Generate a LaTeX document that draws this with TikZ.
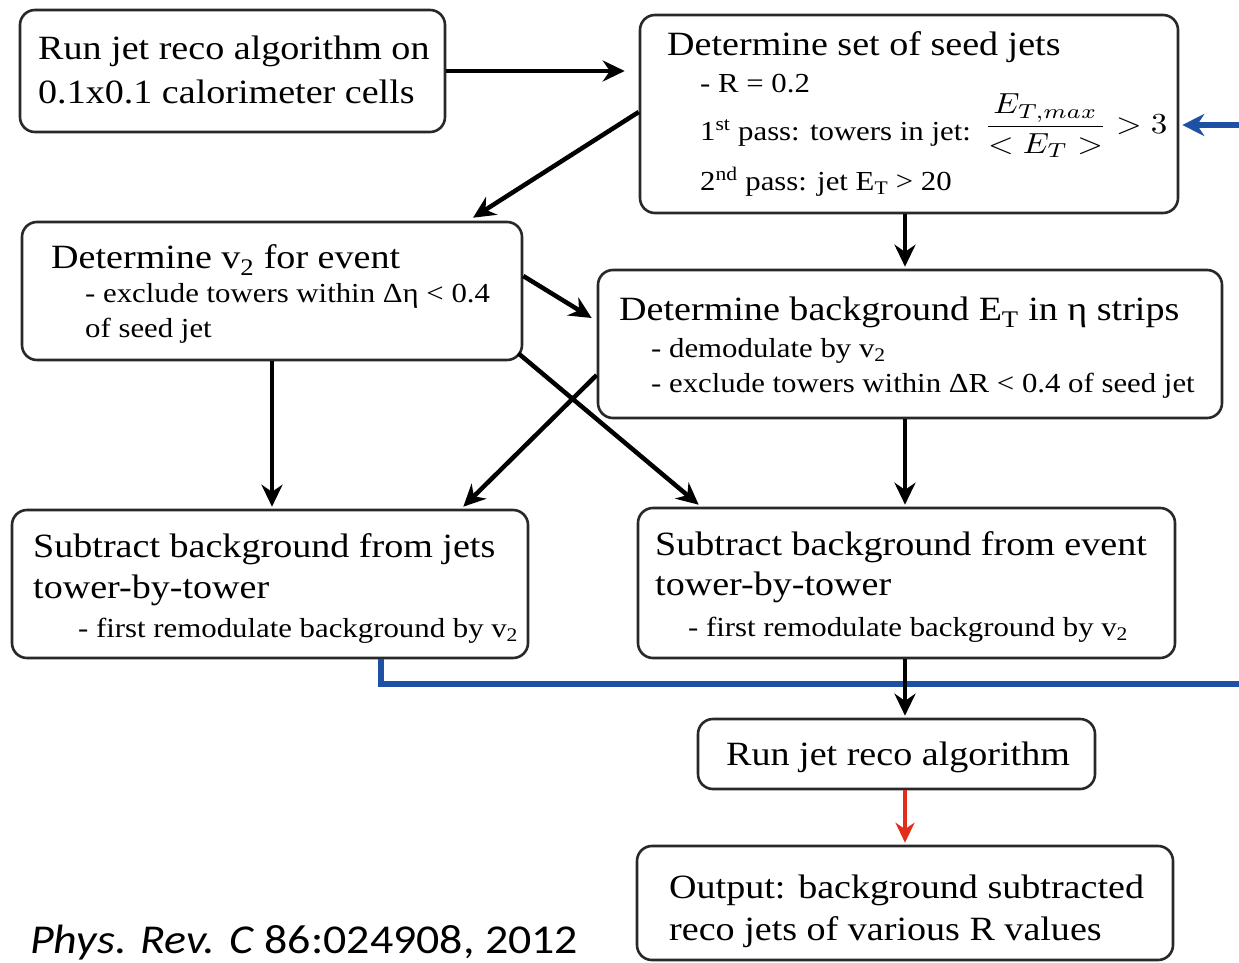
\documentclass[tikz,border=0pt]{standalone}
\usepackage{fontspec}
\setmainfont{Liberation Serif}[FakeStretch=1.12]
\newfontfamily\citefont{Carlito}[FakeStretch=1.12]
\usepackage{graphicx}
\usetikzlibrary{arrows.meta,calc}
\definecolor{boxgray}{RGB}{40,40,40}
\definecolor{fbblue}{RGB}{30,80,165}
\definecolor{fbred}{RGB}{225,45,25}
\tikzset{
  box/.style={draw=boxgray, line width=2.6pt, rounded corners=15pt, fill=white, inner sep=0pt},
  ttl/.style={anchor=base west, inner sep=0pt, font=\fontsize{34}{40}\selectfont},
  sub/.style={anchor=base west, inner sep=0pt, font=\fontsize{27.5}{33}\selectfont},
  arr/.style={line width=4.5pt, -{Stealth[length=22pt,width=21pt]}},
  redarr/.style={draw=fbred, line width=3.5pt, -{Stealth[length=20pt,width=19pt]}},
  blueln/.style={draw=fbblue, line width=5.5pt, line join=miter, -{Stealth[length=22pt,width=22pt]}},
}
\begin{document}
\begin{tikzpicture}[x=1pt,y=-1pt]
\fill[white] (0,0) rectangle (1239,963);
\useasboundingbox (0,0) rectangle (1239,963);

% boxes
\node[box, minimum width=425pt, minimum height=122pt] (A) at (232.5,71) {};
\node[box, minimum width=538pt, minimum height=198pt] (seed) at (909,114) {};
\node[box, minimum width=500pt, minimum height=138pt] (v2) at (272,291) {};
\node[box, minimum width=624pt, minimum height=148pt] (bkg) at (910,344) {};
\node[box, minimum width=516pt, minimum height=148pt] (sj) at (270,584) {};
\node[box, minimum width=537pt, minimum height=150pt] (se) at (906.5,583) {};
\node[box, minimum width=397pt, minimum height=70pt] (run) at (896.5,754) {};
\node[box, minimum width=536pt, minimum height=114pt] (out) at (905,903) {};

% texts
\node[ttl] (tA1) at (38,60) {Run jet reco algorithm on};
\node[ttl] (tA2) at (38,104) {0.1x0.1 calorimeter cells};

\node[ttl] (ts1) at (667,56) {Determine set of seed jets};
\node[sub] (ts2) at (700,93) {- R = 0.2};
\node[sub] (ts3) at (700,140) {1\textsuperscript{st} pass: towers in jet:};
\node[sub] (ts4) at (700,190) {2\textsuperscript{nd} pass: jet E\textsubscript{T} > 20};
\node[anchor=west, inner sep=0pt] (frac) at (984,126)
  {\scalebox{3.3}[2.9]{$\displaystyle\frac{E_{T,max}}{<E_T>}>3$}};

\node[ttl] (tv1) at (51,268) {Determine v\textsubscript{2} for event};
\node[sub] (tv2) at (85,302) {- exclude towers within Δη < 0.4};
\node[sub] (tv3) at (85,337) {of seed jet};

\node[ttl] (tb1) at (619,320) {Determine background E\textsubscript{T} in η strips};
\node[sub] (tb2) at (651,357) {- demodulate by v\textsubscript{2}};
\node[sub] (tb3) at (651,392) {- exclude towers within ΔR < 0.4 of seed jet};

\node[ttl] (tj1) at (33,557) {Subtract background from jets};
\node[ttl] (tj2) at (33,598) {tower-by-tower};
\node[sub] (tj3) at (78,637) {- first remodulate background by v\textsubscript{2}};

\node[ttl] (te1) at (655,555) {Subtract background from event};
\node[ttl] (te2) at (655,595) {tower-by-tower};
\node[sub] (te3) at (688,636) {- first remodulate background by v\textsubscript{2}};

\node[ttl] (tr) at (726,765) {Run jet reco algorithm};

\node[ttl] (to1) at (669,898) {Output: background subtracted};
\node[ttl] (to2) at (669,940) {reco jets of various R values};

\node[anchor=base west, inner sep=0pt, font=\citefont\fontsize{41}{48}\selectfont]
  (cite) at (30,953) {\textit{Phys. Rev. C} 86:024908, 2012};

% helper coordinates
\coordinate (ax) at (905,0);
\coordinate (bl) at (381,0);
\coordinate (bc) at (1252,684);
\coordinate (tc) at (1252,125);

% blue feedback line
\draw[blueln] (sj.south -| bl) |- (bc) -- (tc) -- ($(tc -| seed.east)+(3,0)$);

% black connectors
\draw[arr] (A.east) -- ($(A.east -| seed.west)+(-14,0)$);
\draw[arr] ($(seed.west)+(0,-2)$) -- ($(v2.north west)!0.9!(v2.north east)+(0,-3)$);
\draw[arr] (seed.south -| ax) -- ($(bkg.north -| ax)+(0,-2)$);
\draw[arr] ($(v2.east)+(0,-15)$) -- ($(bkg.west)+(-5,-26)$);
\draw[arr] (v2.south) -- ($(v2.south |- sj.north)+(0,-2)$);
\draw[arr] ($(bkg.west)+(0,31)$) -- ($(sj.north east)+(-66,-2)$);
\draw[arr] ($(v2.south east)+(-5,-8)$) -- ($(se.north west)+(62,-2)$);
\draw[arr] (bkg.south -| ax) -- ($(se.north -| ax)+(0,-2)$);
\draw[arr] (se.south -| ax) -- ($(run.north -| ax)+(0,-2)$);
\draw[redarr] (run.south -| ax) -- ($(out.north -| ax)+(0,-2)$);
\end{tikzpicture}
\end{document}
